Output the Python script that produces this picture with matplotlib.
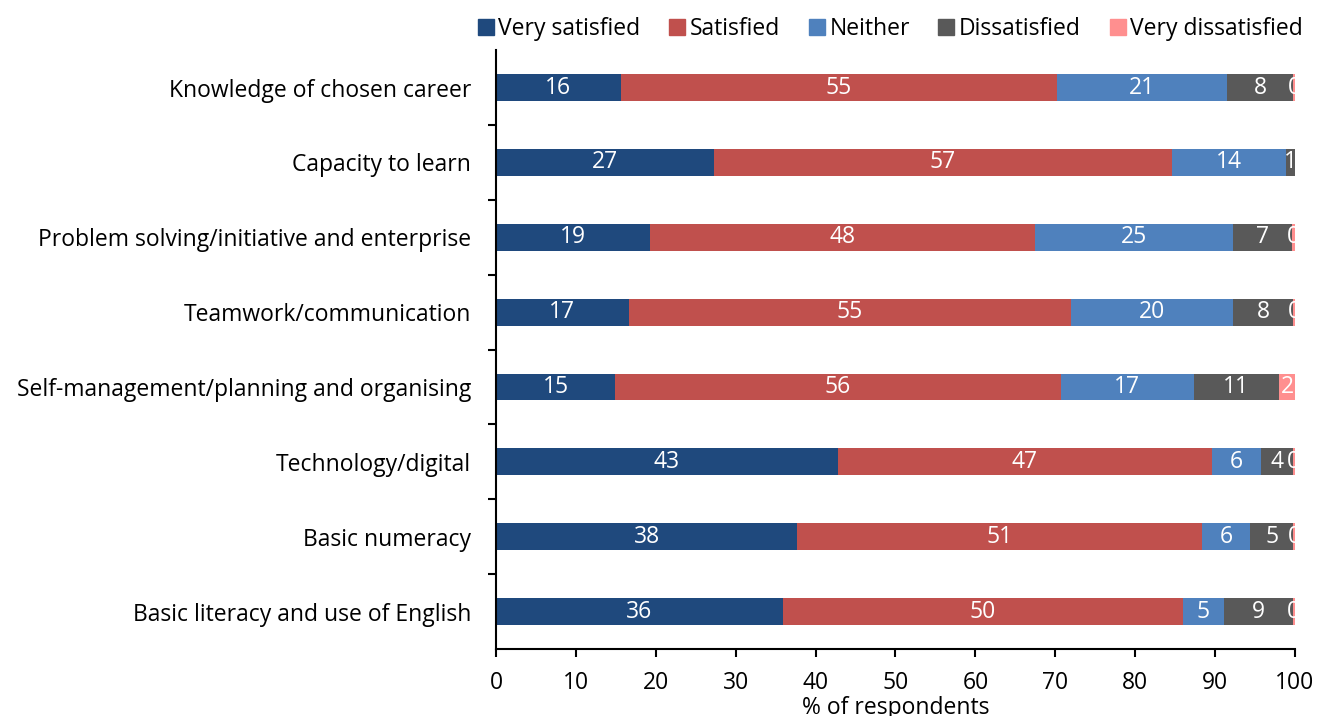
import matplotlib
matplotlib.use("Agg")
import matplotlib.pyplot as plt
from matplotlib.lines import Line2D
import numpy as np

plt.rcParams['font.family'] = ['Open Sans', 'DejaVu Sans']

categories = [
    "Knowledge of chosen career",
    "Capacity to learn",
    "Problem solving/initiative and enterprise",
    "Teamwork/communication",
    "Self-management/planning and organising",
    "Technology/digital",
    "Basic numeracy",
    "Basic literacy and use of English",
]
series = ["Very satisfied", "Satisfied", "Neither", "Dissatisfied", "Very dissatisfied"]
very_satisfied = [15.6, 27.3, 19.3, 16.6, 14.9, 42.8, 37.7, 35.9]
satisfied = [54.6, 57.3, 48.2, 55.4, 55.8, 46.8, 50.6, 50.1]
neither = [21.3, 14.3, 24.7, 20.2, 16.6, 6.1, 6.1, 5.1]
dissatisfied = [8.3, 1.1, 7.4, 7.6, 10.7, 4.0, 5.4, 8.6]
very_dissatisfied = [0.2, 0.0, 0.4, 0.2, 2.0, 0.3, 0.2, 0.3]
colors = ["#1F497D", "#C0504D", "#4F81BD", "#595959", "#FF8F8F"]
xticks = [0, 10, 20, 30, 40, 50, 60, 70, 80, 90, 100]

data = [very_satisfied, satisfied, neither, dissatisfied, very_dissatisfied]
FS = 16.5

fig = plt.figure(figsize=(13.17, 7.16), dpi=100)
ax = fig.add_axes([0.3766, 0.0936, 0.6067, 0.8364])

y = np.arange(len(categories))
left = np.zeros(len(categories))
for name, vals, col in zip(series, data, colors):
    vals = np.array(vals)
    ax.barh(y, vals, left=left, height=0.36, color=col, label=name, zorder=2)
    for yi, l, v in zip(y, left, vals):
        if name == "Very dissatisfied" and v == 0 and categories[yi] == "Capacity to learn":
            continue
        ax.text(l + v / 2, yi, f"{v:.0f}", ha="center", va="center",
                color="white", fontsize=FS, clip_on=True, zorder=3)
    left = left + vals

ax.set_xlim(0, 100)
ax.set_ylim(len(categories) - 0.5, -0.5)
ax.set_xticks(xticks)
ax.set_xticklabels([str(t) for t in xticks], fontsize=FS)
ax.set_yticks(y)
ax.set_yticklabels(categories, fontsize=FS)
ax.set_yticks(np.arange(0.5, len(categories) - 0.5, 1), minor=True)
ax.tick_params(axis="y", which="major", length=0, pad=18)
ax.tick_params(axis="y", which="minor", length=6, width=1.5, direction="out")
ax.tick_params(axis="x", which="major", length=6, width=1.5, direction="out", pad=10)
for s in ["top", "right"]:
    ax.spines[s].set_visible(False)
for s in ["left", "bottom"]:
    ax.spines[s].set_linewidth(1.5)
    ax.spines[s].set_color("black")
ax.set_xlabel("% of respondents", fontsize=FS, va="center")
ax.xaxis.set_label_coords(0.5, -0.098)

handles = [Line2D([0], [0], marker="s", linestyle="none", markersize=11,
                  markerfacecolor=c, markeredgecolor=c) for c in colors]
fig.legend(handles, series, loc="upper right", bbox_to_anchor=(1.005, 1.005),
           ncol=5, frameon=False, fontsize=FS, handletextpad=0.15,
           columnspacing=1.2, handlelength=0.8)

fig.savefig("out.png", dpi=100)
